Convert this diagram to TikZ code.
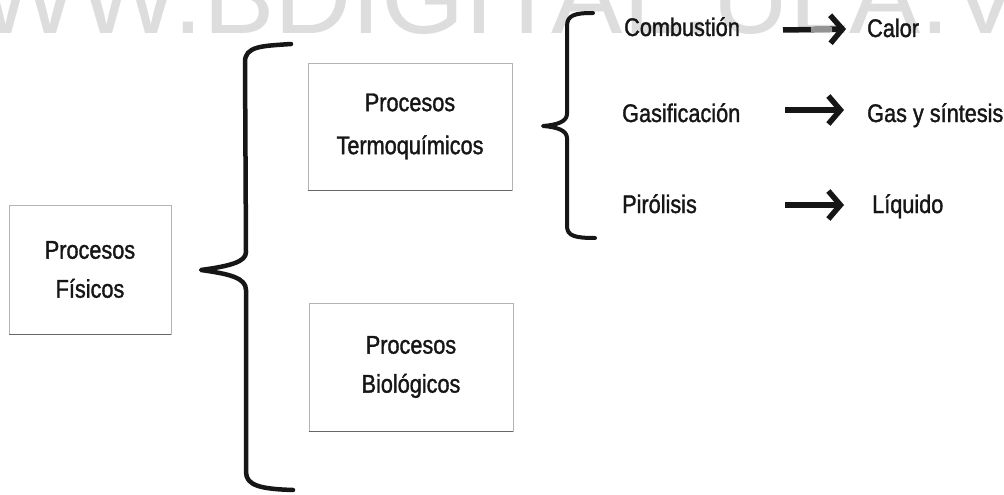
\documentclass[tikz,border=0pt]{standalone}
\usepackage{fontspec}
\setmainfont{Liberation Sans}
\newfontfamily\diagfont[FakeStretch=0.85,FakeBold=1.3]{Liberation Sans}
\usetikzlibrary{arrows.meta}
\definecolor{wmgray}{RGB}{221,221,221}
\definecolor{boxgray}{RGB}{180,180,180}
\definecolor{inkgray}{RGB}{22,22,22}
\begin{document}
\begin{tikzpicture}[x=1pt,y=-1pt,
  wm/.style={font=\fontsize{107}{107}\selectfont, text=wmgray, inner sep=0pt, anchor=base west},
  procbox/.style={draw=boxgray, line width=0.8pt, align=center, inner sep=0pt,
    font=\diagfont\fontsize{25.5}{39}\selectfont, text=inkgray},
  boxbottom/.style={draw=black!60, line width=1.4pt},
  lbl/.style={font=\diagfont\fontsize{25.5}{30}\selectfont, text=inkgray, anchor=base west, inner sep=0pt},
  brace/.style={draw=inkgray, line width=4.5pt, line cap=round, line join=round},
  bigarrow/.style={draw=inkgray, line width=5.5pt, -{Straight Barb[length=12pt,width=28pt]}}
]
\useasboundingbox (0,0) rectangle (1004,495);
\clip (0,0) rectangle (1004,495);
\fill[white] (0,0) rectangle (1004,495);

% watermark
\node[wm] (wmark) at (-124,34) {WWW.BDIGITAL.ULA.VE};

% boxes
\node[procbox, minimum width=162pt, minimum height=129pt] (fis) at (90,269.5) {Procesos\\Físicos};
\node[procbox, minimum width=204pt, minimum height=127pt] (termo) at (410,126.5) {Procesos\\[4pt]Termoquímicos};
\node[procbox, minimum width=204pt, minimum height=128pt] (bio) at (411,367) {Procesos\\Biológicos};
\draw[boxbottom] (fis.south west) -- (fis.south east);
\draw[boxbottom] (termo.south west) -- (termo.south east);
\draw[boxbottom] (bio.south west) -- (bio.south east);

% big brace
\draw[brace] (291,44) .. controls (262,46) and (245,46) .. (245,62)
  -- (246,252) .. controls (246,262) and (230,266) .. (201,270)
  .. controls (230,274) and (246,278) .. (246,290)
  -- (246,472) .. controls (246,486) and (262,489) .. (293,490);

% small brace
\draw[brace, line width=4pt] (593,13) .. controls (575,13) and (567,15) .. (567,26)
  -- (567,114) .. controls (567,122) and (556,125) .. (543,126)
  .. controls (556,127) and (567,130) .. (567,138)
  -- (567,226) .. controls (567,236) and (575,238) .. (595,238);

% right column labels
\node[lbl] (comb) at (624,36) {Combustión};
\node[lbl] (gasif) at (622,122) {Gasificación};
\node[lbl] (piro) at (622,213) {Pirólisis};
\node[lbl] (calor) at (867,37) {Calor};
\node[lbl] (gas) at (867,122) {Gas y síntesis};
\node[lbl] (liq) at (872,213) {Líquido};

% arrow coordinates
\coordinate (a1s) at (783,30);
\coordinate (a1e) at (846,29);
\coordinate (a2s) at (785,110);
\coordinate (a2e) at (844,110);
\coordinate (a3s) at (785,205);
\coordinate (a3e) at (844,205);
\draw[bigarrow] (a1s) -- (a1e);
\draw[draw=gray!85, line width=5pt] (811,29.7) -- (832,29.4);
\draw[bigarrow] (a2s) -- (a2e);
\draw[bigarrow] (a3s) -- (a3e);
\end{tikzpicture}
\end{document}
